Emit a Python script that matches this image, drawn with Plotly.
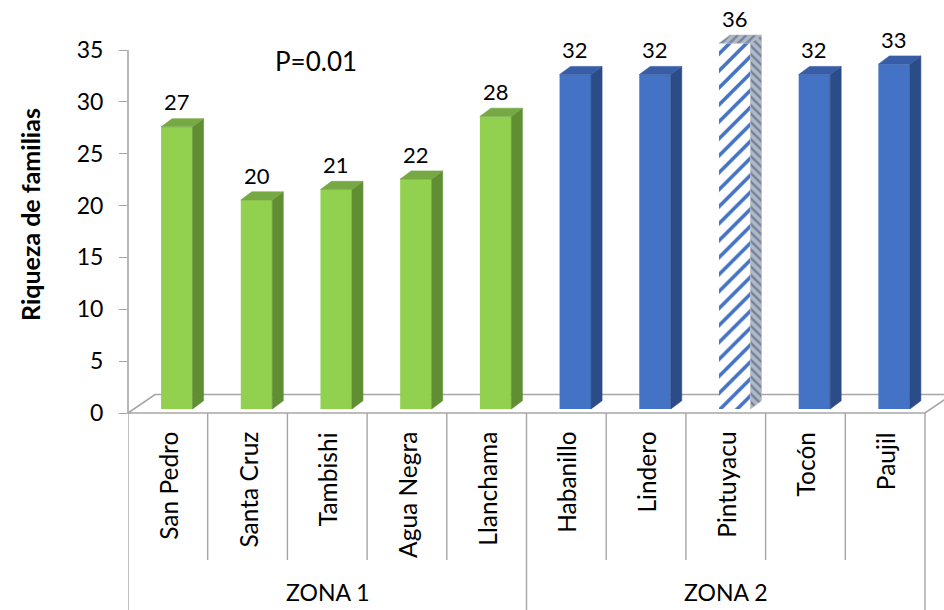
import numpy as np
import plotly.graph_objects as go

# ---- data -------------------------------------------------------------
sites = ["San Pedro", "Santa Cruz", "Tambishi", "Agua Negra", "Llanchama",
         "Habanillo", "Lindero", "Pintuyacu", "Tocón", "Paujil"]
richness = [27, 20, 21, 22, 28, 32, 32, 36, 32, 33]
zones = ["ZONA 1", "ZONA 2"]
zone_sizes = [5, 5]
highlight_site = "Pintuyacu"
y_ticks = [0, 5, 10, 15, 20, 25, 30, 35]
annotation_text = "P=0.01"
y_title = "Riqueza de familias"

# ---- geometry / style -------------------------------------------------
W, H = 944, 610
FONT = "Lato"
SLOT_PX = 79.7                  # width of one category slot
X0_PX = 128                     # left edge of category axis
FLOOR_PX = 413                  # pixel row of the value 0
TICK_SCALE = 363 / 35           # px per unit on the tick axis
BAR_SCALE = 10.45               # px per unit on the column front plane
BAR_BASE_PX = 409               # front-bottom row of the columns
Y_MAX = 35                      # value axis ceiling
F_LEFT, F_RIGHT = -0.085, 0.31  # front face relative to slot centre
DEPTH_X = 11 / SLOT_PX          # column depth, x units
DEPTH_Y = 8.2 / BAR_SCALE       # column depth, y units
FLOOR_DX, FLOOR_DY = 27, 18.5   # floor depth in px

GREEN = dict(front="#92D050", top="#76A844", side="#5F8E33")
BLUE = dict(front="#4472C4", top="#375DA6", side="#2C4C88")
GRID = "#A6A6A6"

n = len(sites)
centres = np.arange(n) + 0.5
vals = np.array(richness, dtype=float)
drawn = np.minimum(vals, Y_MAX)  # columns are cut at the axis ceiling
zone_of = np.repeat(np.arange(len(zones)), zone_sizes)
is_hl = np.array([s == highlight_site for s in sites])


def px(x):
    return x / W


def py(y):
    return 1 - y / H


fig = go.Figure()

# front faces: plain columns
front_colors = [GREEN["front"] if z == 0 else BLUE["front"] for z in zone_of]
fig.add_trace(go.Bar(
    x=centres[~is_hl], y=drawn[~is_hl], offset=F_LEFT, width=F_RIGHT - F_LEFT,
    yaxis="y2",
    marker=dict(color=[c for c, h in zip(front_colors, is_hl) if not h],
                line=dict(width=0)),
    hoverinfo="skip", showlegend=False,
))
# front face: hatched column
fig.add_trace(go.Bar(
    x=centres[is_hl], y=drawn[is_hl], offset=F_LEFT, width=F_RIGHT - F_LEFT,
    yaxis="y2",
    marker=dict(color=BLUE["front"], line=dict(width=0),
                pattern=dict(shape="/", fillmode="replace",
                             fgcolor=BLUE["front"], bgcolor="white",
                             size=12, solidity=0.3)),
    hoverinfo="skip", showlegend=False,
))


def face_paths(idx, kind):
    xs, ys = [], []
    for i in idx:
        c, v = centres[i], drawn[i]
        if kind == "side":
            px_ = [c + F_RIGHT, c + F_RIGHT + DEPTH_X, c + F_RIGHT + DEPTH_X, c + F_RIGHT]
            py_ = [0, DEPTH_Y, v + DEPTH_Y, v]
        else:
            px_ = [c + F_LEFT, c + F_RIGHT, c + F_RIGHT + DEPTH_X, c + F_LEFT + DEPTH_X]
            py_ = [v, v, v + DEPTH_Y, v + DEPTH_Y]
        xs += px_ + [px_[0], None]
        ys += py_ + [py_[0], None]
    return xs, ys


groups = [
    ([i for i in range(n) if zone_of[i] == 0 and not is_hl[i]], GREEN, None),
    ([i for i in range(n) if zone_of[i] == 1 and not is_hl[i]], BLUE, None),
    (list(np.flatnonzero(is_hl)), BLUE, "#B4B8C0"),
]
for idx, pal, patbg in groups:
    for kind in ("side", "top"):
        xs, ys = face_paths(idx, kind)
        kw = {}
        if patbg:
            kw["fillpattern"] = dict(shape="\\" if kind == "side" else "/",
                                     fgcolor=BLUE["side"], bgcolor=patbg,
                                     size=6, solidity=0.4)
            color = patbg
        else:
            color = pal[kind]
        fig.add_trace(go.Scatter(
            x=xs, y=ys, yaxis="y2", mode="lines", fill="toself",
            fillcolor=color, line=dict(width=0.6, color=color),
            hoverinfo="skip", showlegend=False, **kw))

shapes = []
# 3-D floor
fx0, fx1 = X0_PX, X0_PX + n * SLOT_PX
shapes.append(dict(
    type="path", xref="paper", yref="paper", layer="below",
    path=(f"M{px(fx0)},{py(FLOOR_PX)} L{px(fx1)},{py(FLOOR_PX)} "
          f"L{px(fx1 + FLOOR_DX)},{py(FLOOR_PX - FLOOR_DY)} "
          f"L{px(fx0 + FLOOR_DX)},{py(FLOOR_PX - FLOOR_DY)} Z"),
    line=dict(color=GRID, width=1.6)))
# value axis line
shapes.append(dict(type="line", xref="paper", yref="y", x0=px(X0_PX), x1=px(X0_PX),
                   y0=0, y1=Y_MAX, line=dict(color=GRID, width=1.6)))
# category dividers (two-level axis)
bounds = np.concatenate([[0], np.cumsum(zone_sizes)])
for k in range(n + 1):
    outer = k in bounds
    shapes.append(dict(type="line", xref="x", yref="paper", x0=k, x1=k,
                       y0=py(FLOOR_PX), y1=py(H if outer else 560),
                       line=dict(color=GRID, width=1.4)))

annotations = []
for i in range(n):
    annotations.append(dict(
        x=centres[i] + (F_LEFT + F_RIGHT) / 2, y=drawn[i], xref="x", yref="y2",
        text=str(richness[i]), showarrow=False, xanchor="center",
        yanchor="middle", yshift=25,
        font=dict(family=FONT, size=22, color="black")))
    annotations.append(dict(
        x=centres[i], y=py(430), xref="x", yref="paper", text=sites[i],
        textangle=-90, showarrow=False, yanchor="top", xanchor="center",
        font=dict(family=FONT, size=24.5, color="black")))
for z, name in enumerate(zones):
    annotations.append(dict(
        x=(bounds[z] + bounds[z + 1]) / 2, y=py(592), xref="x", yref="paper",
        text=name, showarrow=False, xanchor="center", yanchor="middle",
        font=dict(family=FONT, size=23, color="black")))
annotations.append(dict(x=px(316), y=py(61), xref="paper", yref="paper",
                        text=annotation_text, showarrow=False,
                        xanchor="center", yanchor="middle",
                        font=dict(family=FONT, size=26, color="black")))
annotations.append(dict(x=px(30), y=py(215), xref="paper", yref="paper",
                        text=f"<b>{y_title}</b>", textangle=-90, showarrow=False,
                        xanchor="center", yanchor="middle",
                        font=dict(family=FONT, size=25, color="black")))

plot_top_units = FLOOR_PX / TICK_SCALE
fig.update_layout(
    width=W, height=H, autosize=False, margin=dict(l=0, r=0, t=0, b=0, pad=0),
    paper_bgcolor="white", plot_bgcolor="rgba(0,0,0,0)",
    barmode="overlay", showlegend=False,
    xaxis=dict(domain=[X0_PX / W, 1], range=[0, (W - X0_PX) / SLOT_PX],
               automargin=False, showgrid=False, zeroline=False,
               showline=False, showticklabels=False, ticks=""),
    yaxis=dict(domain=[(H - FLOOR_PX) / H, 1], range=[0, plot_top_units],
               automargin=False,
               tickvals=y_ticks, ticks="outside", ticklen=8, tickwidth=1.4,
               tickcolor=GRID, showgrid=False, zeroline=False, showline=False,
               ticklabelstandoff=11,
               tickfont=dict(family=FONT, size=23, color="black")),
    yaxis2=dict(domain=[(H - FLOOR_PX) / H, 1], overlaying="y",
                automargin=False,
                range=[-(FLOOR_PX - BAR_BASE_PX) / BAR_SCALE, BAR_BASE_PX / BAR_SCALE],
                visible=False),
    shapes=shapes, annotations=annotations,
)

fig.write_html("out.html", config={"responsive": False})
